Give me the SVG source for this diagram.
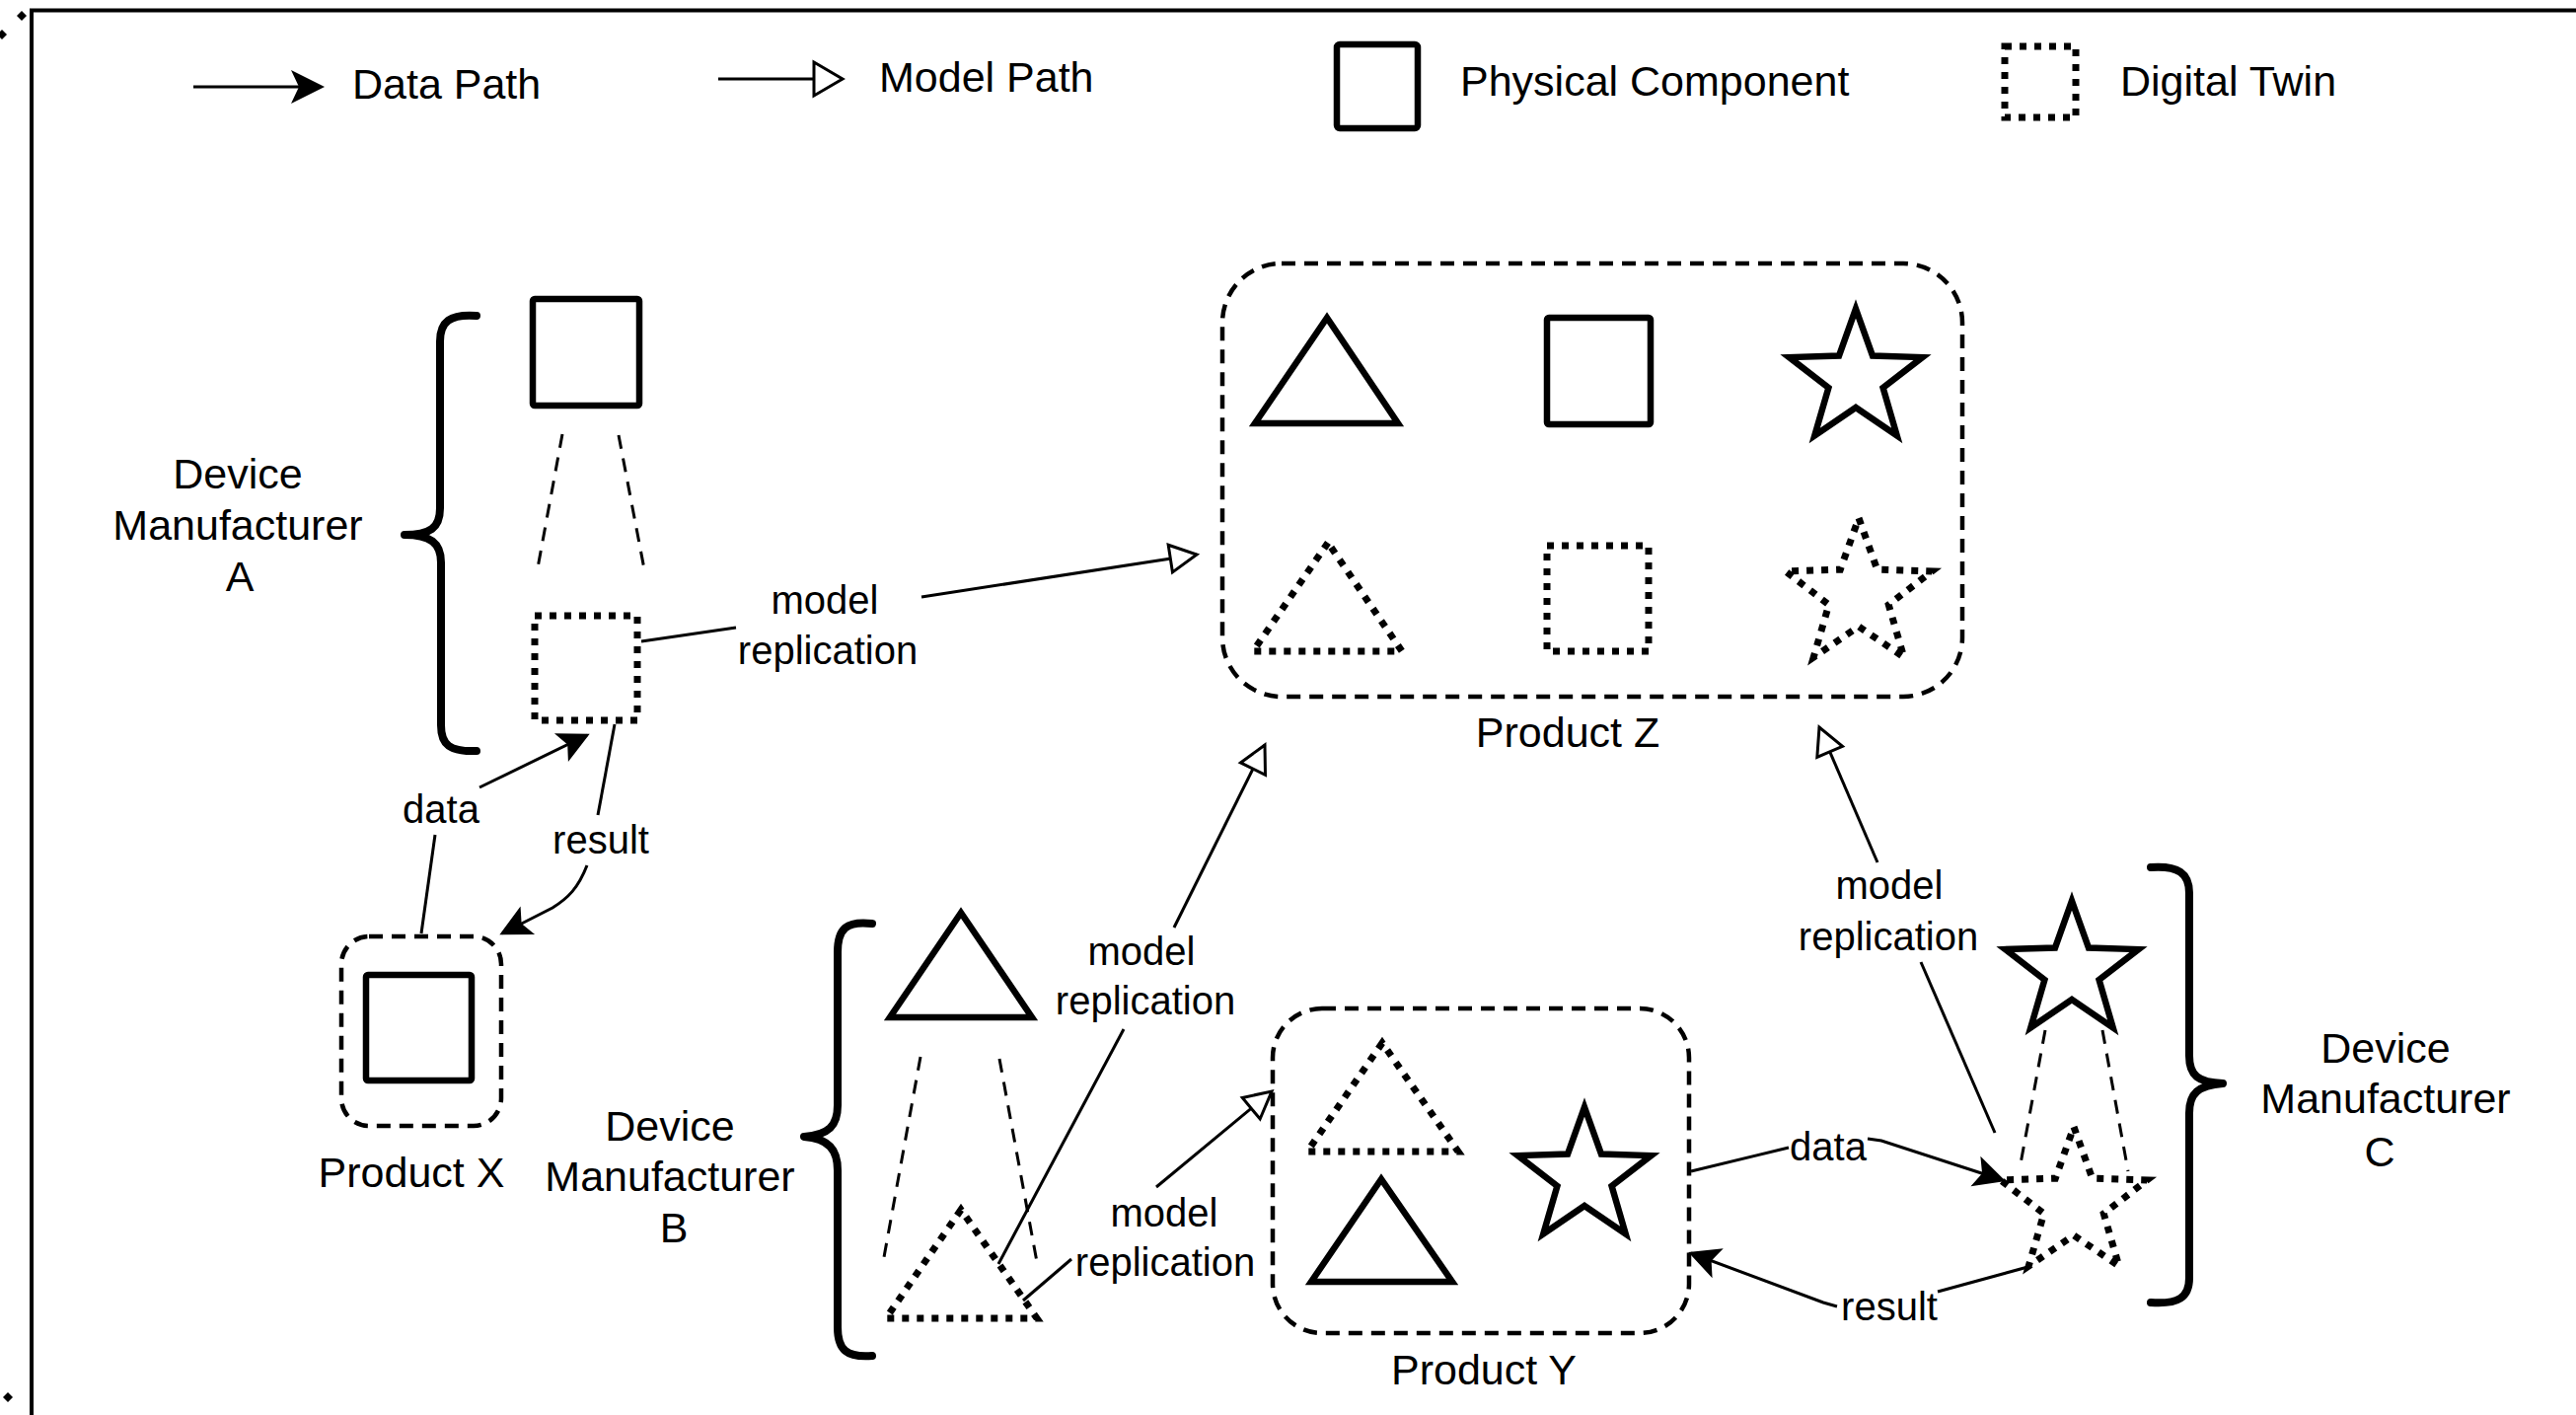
<svg xmlns="http://www.w3.org/2000/svg" width="2611" height="1434" viewBox="0 0 2611 1434">
<style>
text{font-family:"Liberation Sans",Arial,Helvetica,sans-serif;fill:#000}
.big{font-size:43px}
.lbl{font-size:40px}
.mid{text-anchor:middle}
.solid{fill:#fff;stroke:#000;stroke-width:6.5;stroke-linejoin:miter}
.dot{fill:none;stroke:#000;stroke-width:7;stroke-dasharray:7 8}
.box{fill:none;stroke:#000;stroke-width:4.5;stroke-dasharray:14 9}
.guide{fill:none;stroke:#000;stroke-width:3;stroke-dasharray:14 10}
.brace{fill:none;stroke:#000;stroke-width:8;stroke-linecap:round;stroke-linejoin:round}
.conn{fill:none;stroke:#000;stroke-width:3}
.data{marker-end:url(#classic)}
.model{marker-end:url(#hollow)}
</style>
<defs>
<marker id="classic" markerUnits="userSpaceOnUse" markerWidth="34" markerHeight="34" refX="29" refY="16" orient="auto" overflow="visible">
<path d="M0,0 L32,16 L0,32 L7,16 Z" fill="#000"/>
</marker>
<marker id="classicL" markerUnits="userSpaceOnUse" markerWidth="36" markerHeight="36" refX="30" refY="17" orient="auto" overflow="visible">
<path d="M0,0 L34,17 L0,34 L8,17 Z" fill="#000"/>
</marker>
<marker id="hollow" markerUnits="userSpaceOnUse" markerWidth="30" markerHeight="30" refX="27" refY="14" orient="auto" overflow="visible">
<path d="M0,0 L27,14 L0,28 Z" fill="#fff" stroke="#000" stroke-width="3"/>
</marker>
<marker id="hollowL" markerUnits="userSpaceOnUse" markerWidth="32" markerHeight="36" refX="29" refY="17" orient="auto" overflow="visible">
<path d="M0,0 L29,17 L0,34 Z" fill="#fff" stroke="#000" stroke-width="3"/>
</marker>
<path id="star71" d="M0,-71 L17,-23.5 L67.5,-21.9 L27.6,9 L41.7,57.4 L0,29 L-41.7,57.4 L-27.6,9 L-67.5,-21.9 L-17,-23.5 Z"/>
<path id="star78" d="M0,-78 L18.7,-25.8 L74.2,-24.1 L30.3,9.9 L45.8,63.1 L0,31.9 L-45.8,63.1 L-30.3,9.9 L-74.2,-24.1 L-18.7,-25.8 Z"/>
</defs>
<rect width="2611" height="1434" fill="#fff"/>

<g id="frame">
<line x1="30" y1="10.5" x2="2611" y2="10.5" stroke="#000" stroke-width="4"/>
<line x1="32" y1="9" x2="32" y2="1434" stroke="#000" stroke-width="4"/>
<polygon points="22,11 27,16 22,21 17,16" fill="#000"/>
<polygon points="2,30 7,35 2,40 -3,35" fill="#000"/>
<polygon points="8,1411 13,1416 8,1421 3,1416" fill="#000"/>
</g>

<g id="legend">
<line x1="196" y1="88" x2="325" y2="88" stroke="#000" stroke-width="3" marker-end="url(#classicL)"/>
<text class="big" x="357" y="100">Data Path</text>
<line x1="728" y1="80" x2="854" y2="80" stroke="#000" stroke-width="3" marker-end="url(#hollowL)"/>
<text class="big" x="891" y="93">Model Path</text>
<rect class="solid" x="1355" y="45" width="82" height="85" rx="3"/>
<text class="big" x="1480" y="97">Physical Component</text>
<rect class="dot" x="2032" y="47" width="72" height="72"/>
<text class="big" x="2149" y="97">Digital Twin</text>
</g>

<g id="manufacturer-a">
<path class="brace" d="M483,320 C456,318 446,326 446,346 L446,515 C446,535 436,542 410,542 C436,542 447,550 447,570 L447,735 C447,755 456,762 483,761"/>
<text class="big mid" x="241" y="495">Device</text>
<text class="big mid" x="241" y="547">Manufacturer</text>
<text class="big mid" x="243" y="599">A</text>
<rect class="solid" x="540" y="303" width="108" height="108" rx="2"/>
<line class="guide" x1="570" y1="440" x2="544" y2="581"/>
<line class="guide" x1="627" y1="441" x2="654" y2="582"/>
<rect class="dot" x="542" y="624" width="104" height="106"/>
</g>

<g id="product-x">
<rect class="box" x="346" y="949" width="162" height="192" rx="28"/>
<rect class="solid" x="371" y="988" width="107" height="107" rx="2"/>
<text class="big mid" x="417" y="1203">Product X</text>
</g>

<g id="product-z">
<rect class="box" x="1239" y="267" width="750" height="439" rx="60"/>
<polygon class="solid" points="1345,322 1272,429 1417,429"/>
<rect class="solid" x="1568" y="322" width="105" height="108" rx="2"/>
<use href="#star71" class="solid" x="1881" y="384"/>
<polygon class="dot" points="1346,550 1270,660 1421,660"/>
<rect class="dot" x="1568" y="553" width="103" height="107"/>
<use href="#star78" class="dot" x="1884" y="603"/>
<text class="big mid" x="1589" y="757">Product Z</text>
</g>

<g id="manufacturer-b">
<path class="brace" d="M884,936 C858,933 849,941 849,965 L849,1120 C849,1141 840,1150 815,1152 C840,1154 849,1165 849,1186 L849,1345 C849,1368 858,1376 884,1374"/>
<text class="big mid" x="679" y="1156">Device</text>
<text class="big mid" x="679" y="1207">Manufacturer</text>
<text class="big mid" x="683" y="1259">B</text>
<polygon class="solid" points="974,925 902,1031 1046,1031"/>
<line class="guide" x1="933" y1="1071" x2="896" y2="1274"/>
<line class="guide" x1="1013" y1="1073" x2="1051" y2="1279"/>
<polygon class="dot" points="974,1226 898,1336 1051,1336"/>
</g>

<g id="product-y">
<rect class="box" x="1290" y="1022" width="422" height="329" rx="50"/>
<polygon class="dot" points="1401,1057 1325,1167 1478,1167"/>
<polygon class="solid" points="1400,1195 1329,1299 1472,1299"/>
<use href="#star71" class="solid" x="1606" y="1193"/>
<text class="big mid" x="1504" y="1403">Product Y</text>
</g>

<g id="manufacturer-c">
<path class="brace" d="M2180,879 C2208,877 2219,885 2219,905 L2219,1070 C2219,1090 2228,1097 2253,1098 C2228,1100 2219,1108 2219,1128 L2219,1295 C2219,1315 2208,1322 2180,1320"/>
<text class="big mid" x="2418" y="1077">Device</text>
<text class="big mid" x="2418" y="1128">Manufacturer</text>
<text class="big mid" x="2412" y="1182">C</text>
<use href="#star71" class="solid" x="2100" y="984"/>
<line class="guide" x1="2073" y1="1044" x2="2047" y2="1185"/>
<line class="guide" x1="2131" y1="1044" x2="2157" y2="1187"/>
<use href="#star78" class="dot" x="2102" y="1220"/>
</g>

<g id="connectors">
<path class="conn" d="M650,650 L746,636"/>
<path class="conn model" d="M934,605 L1213,562"/>
<text class="lbl mid" x="836" y="622">model</text>
<text class="lbl mid" x="839" y="673">replication</text>

<path class="conn" d="M427,946 L441,846"/>
<path class="conn data" d="M486,798 L595,745"/>
<text class="lbl mid" x="447" y="834">data</text>

<path class="conn" d="M623,734 L606,826"/>
<path class="conn data" d="M595,877 C586,900 576,910 560,920 L509,946"/>
<text class="lbl mid" x="609" y="865">result</text>

<path class="conn" d="M1012,1281 L1139,1043"/>
<path class="conn model" d="M1190,940 L1282,755"/>
<text class="lbl mid" x="1157" y="978">model</text>
<text class="lbl mid" x="1161" y="1028">replication</text>

<path class="conn" d="M1037,1318 L1086,1276"/>
<path class="conn model" d="M1172,1203 L1289,1106"/>
<text class="lbl mid" x="1180" y="1243">model</text>
<text class="lbl mid" x="1181" y="1293">replication</text>

<path class="conn" d="M1714,1187 L1813,1163"/>
<path class="conn data" d="M1893,1154 L1907,1156 L2030,1196"/>
<text class="lbl mid" x="1853" y="1176">data</text>

<path class="conn" d="M2059,1283 L1964,1309"/>
<path class="conn data" d="M1862,1324 L1848,1320 L1714,1270"/>
<text class="lbl mid" x="1915" y="1338">result</text>

<path class="conn" d="M2022,1148 L1947,975"/>
<path class="conn model" d="M1903,874 L1844,737"/>
<text class="lbl mid" x="1915" y="911">model</text>
<text class="lbl mid" x="1914" y="963">replication</text>
</g>
</svg>
